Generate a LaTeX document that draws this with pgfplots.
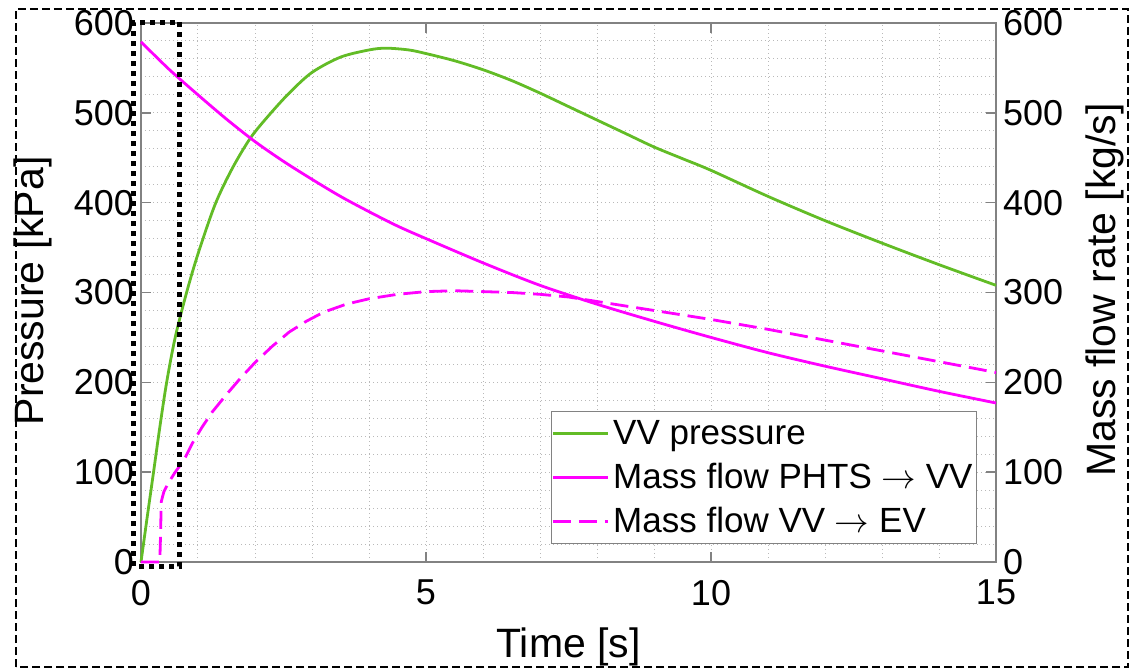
\documentclass[border=0pt]{standalone}
\usepackage{fontspec}
\setmainfont{Liberation Sans}
\usepackage{pgfplots}
\pgfplotsset{compat=1.18}
\definecolor{vvgreen}{RGB}{98,188,38}
\definecolor{mag}{RGB}{255,0,255}
\definecolor{axgray}{RGB}{130,130,130}
\begin{document}
\begin{tikzpicture}
\useasboundingbox (-70.5pt,-54pt) rectangle (496.5pt,281pt);
\begin{axis}[
  at={(0pt,0pt)}, anchor=south west,
  scale only axis, width=427.5pt, height=269.5pt,
  xmin=0, xmax=15, ymin=0, ymax=600,
  xtick={0,5,10,15}, ytick={0,100,...,600},
  minor x tick num=4, minor y tick num=4,
  grid=both,
  major grid style={draw=gray!55, line width=0.5pt, dash pattern=on 0.5pt off 1.5pt},
  minor grid style={draw=gray!55, line width=0.5pt, dash pattern=on 0.5pt off 1.5pt},
  tick align=inside,
  major tick length=5pt, minor tick length=0pt,
  tick style={axgray, line width=0.75pt},
  axis line style={axgray, line width=0.75pt},
  yticklabel pos=left,
  tick label style={font=\fontsize{18}{20}\selectfont},
  /pgf/number format/assume math mode=true,
  xticklabel style={yshift=-5.5pt},
  xlabel={Time [s]}, ylabel={Pressure [kPa]},
  label style={font=\fontsize{20.5}{24}\selectfont},
  xlabel style={at={(axis description cs:0.5,-0.1763)}, anchor=base},
  ylabel style={at={(axis description cs:-0.1263,0.503)}, anchor=center},
  legend style={at={(axis description cs:0.978,0.033)}, anchor=south east,
    draw=axgray, line width=0.6pt, fill=white,
    font=\fontsize{17.5}{20}\selectfont, inner sep=0pt, row sep=0pt,
    nodes={inner xsep=2pt, inner ysep=2.5pt, text height=13.75pt, text depth=3.25pt}},
  legend cell align=left,
  legend image code/.code={\draw[#1] (0pt,0pt) -- (27.5pt,0pt);},
  clip=false,
]
\addplot[vvgreen, line width=1.4pt, smooth, tension=0.5] table {
0 0
0.1 46
0.22 100
0.33 150
0.45 200
0.6 250
0.8 300
1.0 343
1.3 398
1.6 438
1.92 472
2.24 497
2.6 522
3.0 545
3.5 562
4.0 570
4.3 572
4.7 570
5.0 566
5.5 558
6.0 548
6.5 536
7.0 522
7.5 507
8.0 492
8.5 477
9.0 462
9.5 449
10 436
11 407
12 380
13 355
14 331
15 308
};
\addlegendentry{VV pressure}
\addplot[mag, line width=1.4pt, smooth, tension=0.5] table {
0 579
0.5 548
1 520
1.5 493
2 468
2.5 446
3 426
3.5 407
4 390
4.5 374
5 360
6 333
7 308
8 287
9 268
10 250
11 233
12 218
13 204
14 190
15 177
};
\addlegendentry{Mass flow PHTS $\rightarrow$ VV}
\addplot[mag, line width=1.4pt, dash pattern=on 9pt off 4pt] table {
0 0
0.33 0
0.345 35
0.355 67
0.4 78
0.48 88
0.6 100
0.75 113
0.9 132
1.07 150
1.25 167
1.48 185
1.75 205
2.0 222
2.3 240
2.6 256
2.9 268
3.2 278
3.6 287
4.0 293
4.5 298
5 301
5.5 302
6 301
6.5 300
7 298
7.5 295
8 290
8.5 285
9 280
9.5 275
10 270
11 259
12 247
13 235
14 223
15 211
};
\addlegendentry{Mass flow VV $\rightarrow$ EV}
\draw[black, line width=2.5pt, dash pattern=on 2.5pt off 2.5pt] (axis cs:-0.123,-4.5) rectangle (axis cs:0.684,601);
\end{axis}
\begin{axis}[
  at={(0pt,0pt)}, anchor=south west,
  scale only axis, width=427.5pt, height=269.5pt,
  xmin=0, xmax=15, ymin=0, ymax=600,
  hide x axis, axis y line*=right,
  ytick={0,100,...,600},
  major tick length=0pt,
  axis line style={draw=none},
  tick label style={font=\fontsize{18}{20}\selectfont},
  /pgf/number format/assume math mode=true,
  ylabel={Mass flow rate [kg/s]},
  ylabel style={at={(axis description cs:1.1275,0.5046)}, anchor=center, font=\fontsize{20.5}{24}\selectfont},
]
\end{axis}
\draw[black, line width=1pt, dash pattern=on 4pt off 2pt] (-62.5pt,-52.5pt) rectangle (493.5pt,276.5pt);
\end{tikzpicture}
\end{document}
